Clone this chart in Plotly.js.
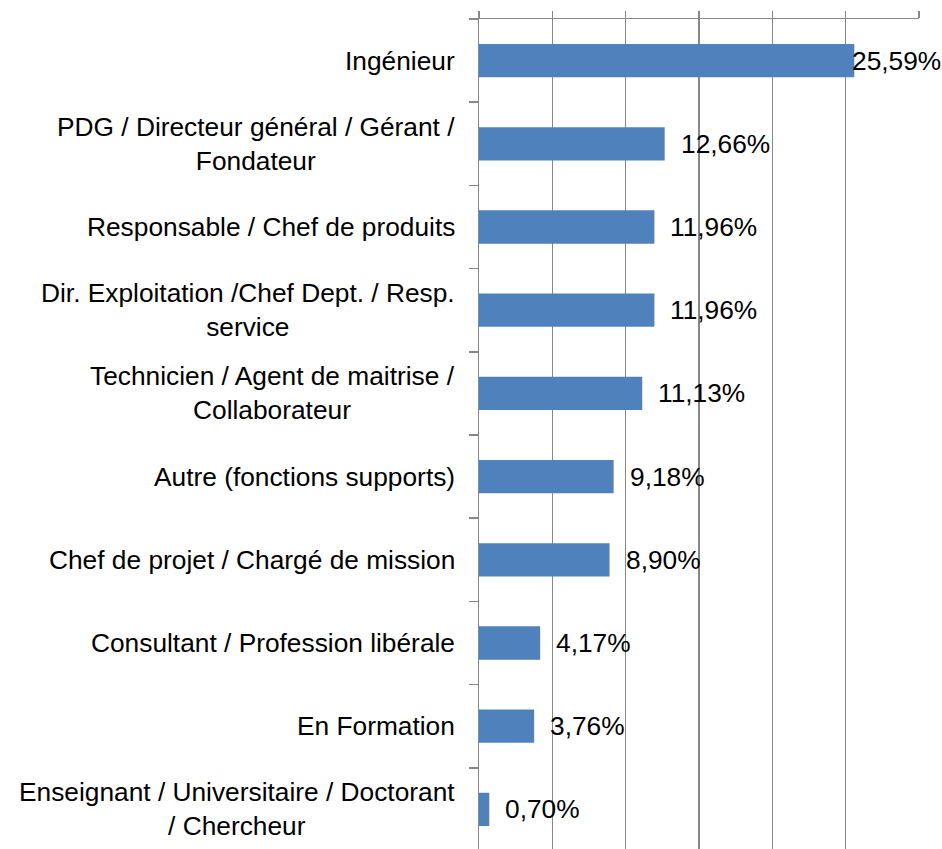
<!DOCTYPE html>
<html>
<head>
<meta charset="utf-8">
<script src="https://cdn.plot.ly/plotly-3.0.1.min.js"></script>
<style>
html,body{margin:0;padding:0;overflow:hidden;background:#fff;}
#chart{width:942px;height:851px;}
</style>
</head>
<body>
<div id="chart"></div>
<script>
const categories = [
  "Ingénieur",
  "PDG / Directeur général / Gérant /<br>Fondateur",
  "Responsable / Chef de produits",
  "Dir. Exploitation /Chef Dept. / Resp.<br>service",
  "Technicien / Agent de maitrise /<br>Collaborateur",
  "Autre (fonctions supports)",
  "Chef de projet / Chargé de mission",
  "Consultant / Profession libérale",
  "En Formation",
  "Enseignant / Universitaire / Doctorant<br>/ Chercheur"
];
const values = [25.59, 12.66, 11.96, 11.96, 11.13, 9.18, 8.90, 4.17, 3.76, 0.70];
const valueLabels = ["25,59%", "12,66%", "11,96%", "11,96%", "11,13%", "9,18%", "8,90%", "4,17%", "3,76%", "0,70%"];
const xTicks = [0, 5, 10, 15, 20, 25, 30];

const W = 942, H = 851;
const mL = 479, mR = 23, mT = 19, mB = 0;
const xMax = 30;
const plotW = W - mL - mR;
const FONT = "Liberation Sans, Arial, sans-serif";
const FS = 26.3;
const grey = "#878787";

const annotations = [];
categories.forEach((c, i) => {
  annotations.push({
    xref: "paper", yref: "y", x: 0, y: c,
    xanchor: "right", yanchor: "middle",
    xshift: -22, align: "center",
    text: c, showarrow: false,
    font: {family: FONT, size: FS, color: "#000"}
  });
  const endPx = values[i] / xMax * plotW;
  const estW = valueLabels[i].length * 14.5;
  if (mL + endPx + 16 + estW > W - 2) {
    annotations.push({
      xref: "paper", yref: "y", x: 1, y: c,
      xanchor: "right", yanchor: "middle", xshift: 24,
      text: valueLabels[i], showarrow: false,
      font: {family: FONT, size: FS, color: "#000"}
    });
  } else {
    annotations.push({
      xref: "x", yref: "y", x: values[i], y: c,
      xanchor: "left", yanchor: "middle", xshift: 14,
      text: valueLabels[i], showarrow: false,
      font: {family: FONT, size: FS, color: "#000"}
    });
  }
});

const trace = {
  type: "bar", orientation: "h",
  x: values, y: categories,
  width: 0.4,
  marker: {color: "#4F81BD", line: {width: 0}},
  hoverinfo: "skip"
};

const layout = {
  width: W, height: H,
  margin: {l: mL, r: mR, t: mT, b: mB, pad: 0},
  paper_bgcolor: "#fff", plot_bgcolor: "#fff",
  showlegend: false,
  font: {family: FONT, size: FS, color: "#000"},
  bargap: 0.6,
  xaxis: {
    range: [0, xMax], side: "top",
    tickmode: "array", tickvals: xTicks,
    showticklabels: false,
    ticks: "outside", ticklen: 7, tickwidth: 1.5, tickcolor: grey,
    showgrid: true, gridcolor: grey, gridwidth: 1.5,
    showline: true, linecolor: grey, linewidth: 1.5,
    zeroline: false, fixedrange: true
  },
  yaxis: {
    type: "category",
    categoryorder: "array", categoryarray: categories,
    autorange: "reversed",
    showticklabels: false,
    tickson: "boundaries",
    ticks: "outside", ticklen: 9, tickwidth: 1.5, tickcolor: grey,
    showgrid: false,
    showline: true, linecolor: grey, linewidth: 1.5,
    zeroline: false, fixedrange: true
  },
  annotations: annotations
};

Plotly.newPlot("chart", [trace], layout, {staticPlot: true, displayModeBar: false});
</script>
</body>
</html>
